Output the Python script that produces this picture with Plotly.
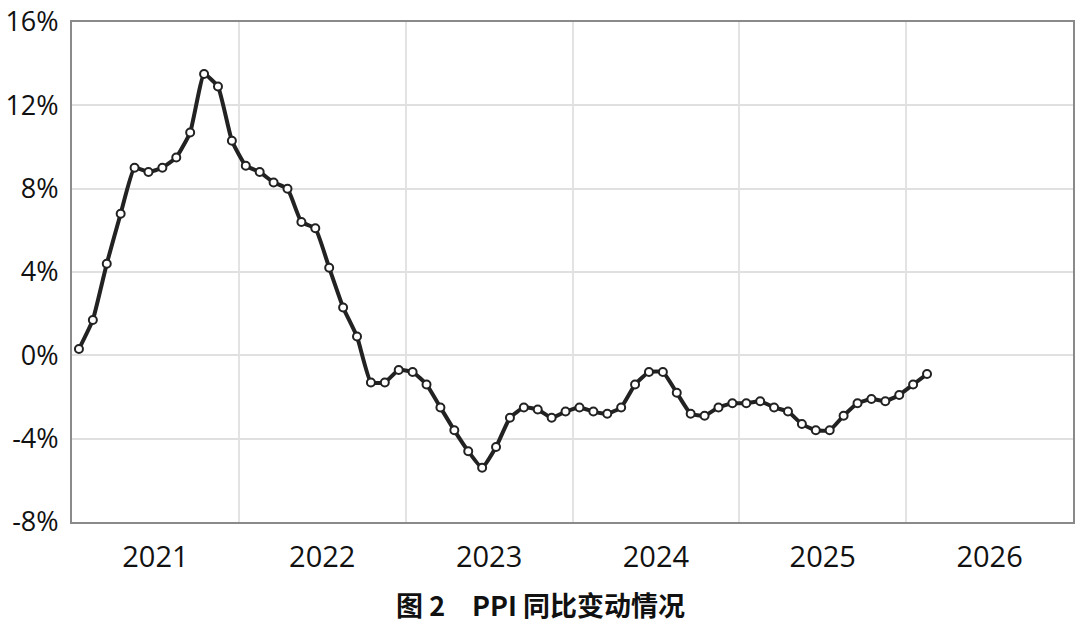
import plotly.graph_objects as go

# Monthly PPI YoY (%), Jan 2021 - Feb 2026
start_year = 2021
ppi = [
    0.3, 1.7, 4.4, 6.8, 9.0, 8.8, 9.0, 9.5, 10.7, 13.5, 12.9, 10.3,   # 2021
    9.1, 8.8, 8.3, 8.0, 6.4, 6.1, 4.2, 2.3, 0.9, -1.3, -1.3, -0.7,    # 2022
    -0.8, -1.4, -2.5, -3.6, -4.6, -5.4, -4.4, -3.0, -2.5, -2.6, -3.0, -2.7,  # 2023
    -2.5, -2.7, -2.8, -2.5, -1.4, -0.8, -0.8, -1.8, -2.8, -2.9, -2.5, -2.3,  # 2024
    -2.3, -2.2, -2.5, -2.7, -3.3, -3.6, -3.6, -2.9, -2.3, -2.1, -2.2, -1.9,  # 2025
    -1.4, -0.9,                                                        # 2026
]
years = [2021, 2022, 2023, 2024, 2025, 2026]
year_labels = ["2021", "2022", "2023", "2024", "2025", "2026"]
y_ticks = [-8, -4, 0, 4, 8, 12, 16]
y_tick_labels = ["-8%", "-4%", "0%", "4%", "8%", "12%", "16%"]
title_text = "图 2　PPI 同比变动情况"

x = [start_year + (i + 0.5) / 12 for i in range(len(ppi))]

fig = go.Figure()
fig.add_trace(go.Scatter(
    x=x, y=ppi, mode="lines+markers",
    line=dict(color="#222222", width=4, shape="spline", smoothing=0.4),
    marker=dict(size=8, color="white", line=dict(color="#222222", width=2)),
    showlegend=False, hoverinfo="skip", cliponaxis=False,
))

fig.update_layout(
    width=1080, height=625,
    margin=dict(l=72, r=7, t=22, b=103),
    paper_bgcolor="white", plot_bgcolor="white",
    font=dict(family="Open Sans", color="#111111"),
    xaxis=dict(
        range=[years[0], years[-1] + 1], automargin=False,
        tickvals=[yv + 0.5 for yv in years], ticktext=year_labels,
        tickfont=dict(size=29, family="Open Sans", color="#111111"),
        showgrid=False, zeroline=False, ticks="", ticklabelstandoff=8,
        showline=True, linecolor="#8a8a8a", linewidth=2, mirror=True,
        minor=dict(tickvals=years[1:], showgrid=True, gridcolor="#e3e3e3", gridwidth=1.5, ticks=""),
    ),
    yaxis=dict(
        range=[-8, 16], tickvals=y_ticks, ticktext=y_tick_labels, automargin=False,
        tickfont=dict(size=27, family="Open Sans", color="#111111"),
        showgrid=True, gridcolor="#e0e0e0", gridwidth=1.5,
        zeroline=False, ticks="", ticklabelstandoff=6,
        showline=True, linecolor="#8a8a8a", linewidth=2, mirror=True,
    ),
    annotations=[dict(
        text="<b>" + title_text + "</b>", xref="paper", yref="paper",
        x=0.468, y=-0.164, xanchor="center", yanchor="middle", showarrow=False,
        font=dict(size=27, family="Noto Sans CJK SC", color="#111111"),
    )],
)

fig.write_html("out.html")
